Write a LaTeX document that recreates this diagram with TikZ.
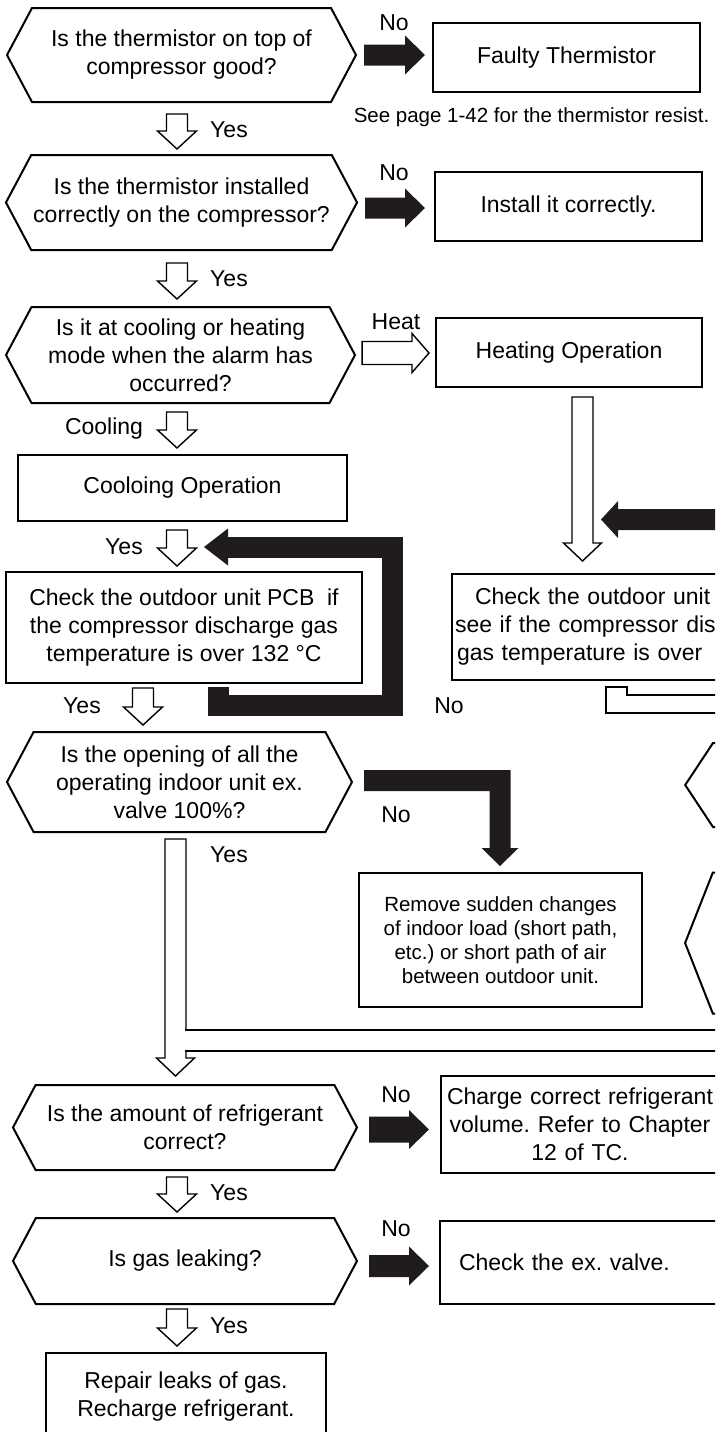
\documentclass[tikz,border=0pt]{standalone}
\usepackage{fontspec}
\setmainfont{Liberation Sans}
\usetikzlibrary{calc,shapes.symbols}
\frenchspacing

\definecolor{arrowblack}{RGB}{32,28,29}
\newcommand{\smalltxt}{\fontsize{20.5pt}{24pt}\selectfont}

\tikzset{
    ashaft/.store in=\ashaftw, ahead/.store in=\aheadw, alen/.store in=\alenw,
    ashaft=10.5pt, ahead=19.5pt, alen=18pt,
    box/.style={draw, line width=2pt, align=center, inner sep=3pt},
    decision/.style={draw, line width=2pt, shape=signal, signal to=west and east,
        signal pointer angle=124, minimum width=349pt, align=center, inner sep=2pt},
    lbl/.style={inner sep=0pt},
    whitearrow/.style={fill=white, draw=black, line width=1.4pt, line join=miter},
    blackarrow/.style={fill=arrowblack, draw=none},
    downpath/.style={to path={let \p1=(\tikztostart), \p2=(\tikztotarget) in
        (\x1-\ashaftw,\y1) -- (\x1+\ashaftw,\y1) -- (\x1+\ashaftw,\y2+\alenw)
        -- (\x1+\aheadw,\y2+\alenw) -- (\x1,\y2) -- (\x1-\aheadw,\y2+\alenw)
        -- (\x1-\ashaftw,\y2+\alenw) -- cycle}},
    rightpath/.style={to path={let \p1=(\tikztostart), \p2=(\tikztotarget) in
        (\x1,\y1+\ashaftw) -- (\x2-\alenw,\y1+\ashaftw) -- (\x2-\alenw,\y1+\aheadw)
        -- (\x2,\y1) -- (\x2-\alenw,\y1-\aheadw) -- (\x2-\alenw,\y1-\ashaftw)
        -- (\x1,\y1-\ashaftw) -- cycle}},
    bendpath/.style={to path={let \p1=(\tikztostart), \p2=(\tikztotarget) in
        (\x1,\y1+\ashaftw) -- (\x2+\ashaftw,\y1+\ashaftw) -- (\x2+\ashaftw,\y2+\alenw)
        -- (\x2+\aheadw,\y2+\alenw) -- (\x2,\y2) -- (\x2-\aheadw,\y2+\alenw)
        -- (\x2-\ashaftw,\y2+\alenw) -- (\x2-\ashaftw,\y1-\ashaftw)
        -- (\x1,\y1-\ashaftw) -- cycle}}
}

\begin{document}
\begin{tikzpicture}[x=1pt, y=-1pt, font=\fontsize{23pt}{28pt}\selectfont]
    \useasboundingbox (0,0) rectangle (715,1432);
    \clip (0,0) rectangle (715,1432);

    % questions on the left
        \node[decision, minimum height=94pt] (q1) at (181.5,55) {Is the thermistor on top of\\compressor good?};
        \node[decision, minimum height=95pt] (q2) at (181.5,202.5) {Is the thermistor installed\\correctly on the compressor?};
        \node[decision, minimum height=96pt] (q3) at (180.5,355) {Is it at cooling or heating\\mode when the alarm has\\occurred?};
        \node[decision, minimum width=345pt, minimum height=100pt] (q4) at (179.5,782) {Is the opening of all the\\operating indoor unit ex.\\valve 100\%?};
        \node[decision, minimum width=344pt, minimum height=85pt] (q5) at (185,1127.5) {Is the amount of refrigerant\\correct?};
        \node[decision, minimum width=344pt, minimum height=86pt] (q6) at (185,1261) {Is gas leaking?};

    % boxes
        \node[box, minimum width=267pt, minimum height=69pt] (faulty) at (566.5,57.5) {Faulty Thermistor};
        \node[box, minimum width=267pt, minimum height=69pt] (install) at (568.5,206.5) {Install it correctly.};
        \node[box, minimum width=266pt, minimum height=69pt] (heating) at (569,352.5) {Heating Operation};
        \node[box, minimum width=329pt, minimum height=66pt] (cooling) at (182.5,488) {Cooloing Operation};
        \node[box, minimum width=356pt, minimum height=111pt] (checkL) at (184,627.5) {Check the outdoor unit PCB\ \ if\\the compressor discharge gas\\temperature is over 132 °C};
        \node[box, anchor=west, text width=350pt, align=left, minimum height=106pt] (checkR) at (451,627) {\hspace*{20pt}Check the outdoor unit\\see if the compressor dis\\\hspace*{2pt}gas temperature is over};
        \node[box, minimum width=283pt, minimum height=134pt, font=\smalltxt] (remove) at (500.5,940) {Remove sudden changes\\of indoor load (short path,\\etc.) or short path of air\\between outdoor unit.};
        \node[box, anchor=west, text width=272pt, minimum height=97pt] (charge) at (440,1124.5) {Charge correct refrigerant\\volume. Refer to Chapter\\12 of TC.};
        \node[box, anchor=west, text width=250pt, inner xsep=19pt, align=left, minimum height=83pt] (valve) at (439,1262.5) {Check the ex. valve.};
        \node[box, minimum width=280pt, minimum height=87pt] (repair) at (186,1396.5) {Repair leaks of gas.\\Recharge refrigerant.};

    % questions cut off at the right edge
        \node[decision, signal pointer angle=113, minimum height=84pt, anchor=west] (hexA) at (684,785) {};
        \node[decision, signal pointer angle=137, minimum height=141pt, anchor=west] (hexB) at (684,943) {};

    % labels
        \node[lbl] (no1) at (394,23) {No};
        \node[lbl] (no2) at (394,173) {No};
        \node[lbl] (no3) at (449,706) {No};
        \node[lbl] (no4) at (396,815) {No};
        \node[lbl] (no5) at (396,1095) {No};
        \node[lbl] (no6) at (396,1229) {No};
        \node[lbl] (yes1) at (229,130) {Yes};
        \node[lbl] (yes2) at (229,279) {Yes};
        \node[lbl] (yes3) at (124,547) {Yes};
        \node[lbl] (yes4) at (82,706) {Yes};
        \node[lbl] (yes5) at (229,855) {Yes};
        \node[lbl] (yes6) at (229,1193) {Yes};
        \node[lbl] (yes7) at (229,1326) {Yes};
        \node[lbl] (heat) at (396,322) {Heat};
        \node[lbl] (cool) at (104,429) {Cooling};
        \node[lbl, font=\smalltxt] (note) at (531.5,117) {See page 1-42 for the thermistor resist.};

    % yes arrows down the left column
        \draw[whitearrow, downpath] ($(q1.south)+(-4.5,11)$) to ($(q2.north)+(0,-5)$);
        \draw[whitearrow, downpath] ($(q2.south)+(-4.5,12)$) to ($(q3.north)+(0,-7)$);
        \draw[whitearrow, downpath] ($(q3.south)+(-3.5,8)$) to ($(cooling.north)+(0,-6)$);
        \draw[whitearrow, downpath] ($(cooling.south)+(-5.5,8)$) to ($(checkL.north)+(0,-5)$);
        \draw[whitearrow, downpath] ($(checkL.south)+(-41,4)$) to ($(q4.north)+(0,-6)$);
        \draw[whitearrow, downpath, ahead=19pt] ($(q4.south)+(-4,6)$) to ($(q5.north)+(0,-8)$);
        \draw[whitearrow, downpath] ($(q5.south)+(-8,6)$) to ($(q6.north)+(0,-5)$);
        \draw[whitearrow, downpath] ($(q6.south)+(-8,4)$) to ($(repair.north)+(0,-6)$);

    % channel joining from the right
        \fill[white] (185,1030.7) rectangle (720,1050.3);
        \draw[line width=1.4pt] (185.3,1030) -- (720,1030) (185.3,1051) -- (720,1051);

    % heating side
        \draw[whitearrow, rightpath, ashaft=11.5pt, alen=17pt] ($(q3.east)+(6,-2)$) to ($(heating.west)+(-6,0)$);
        \draw[whitearrow, downpath, ahead=19pt] ($(heating.south)+(13.5,9)$) to ($(checkR.north)+(0,-12)$);
        \fill[arrowblack] (730,509) -- (618,509) -- (618,501) -- (601,519.5) -- (618,538) -- (618,530) -- (730,530) -- cycle;
        \draw[whitearrow] (730,695) -- (627,695) -- (627,687) -- (606,687) -- (606,713) -- (730,713) -- cycle;

    % no arrows
        \draw[blackarrow, rightpath, ashaft=10.5pt, alen=20pt] ($(q1.east)+(7,0)$) to ($(faulty.west)+(-7,0)$);
        \draw[blackarrow, rightpath, ashaft=10.5pt, alen=20pt] ($(q2.east)+(7,5.5)$) to ($(install.west)+(-9,0)$);
        \draw[blackarrow, rightpath, ashaft=13pt, alen=20pt] ($(q5.east)+(11,2)$) to ($(charge.west)+(-11,0)$);
        \draw[blackarrow, rightpath, ashaft=11pt, alen=20pt] ($(q6.east)+(11,5)$) to ($(valve.west)+(-10,0)$);
        \draw[blackarrow, bendpath, ahead=18.5pt] ($(q4.east)+(11,-1.5)$) to ($(remove.north)+(-0.5,-6)$);

    % loop back to the check
        \coordinate (loopend) at (204,547);
        \draw[arrowblack, line width=21pt, line join=miter] ($(checkL.south)+(34.5,3)$) |- (392,705) |- (228,547);
        \fill[arrowblack] (228,528.5) -- (loopend) -- (228,565.5) -- cycle;

\end{tikzpicture}
\end{document}
